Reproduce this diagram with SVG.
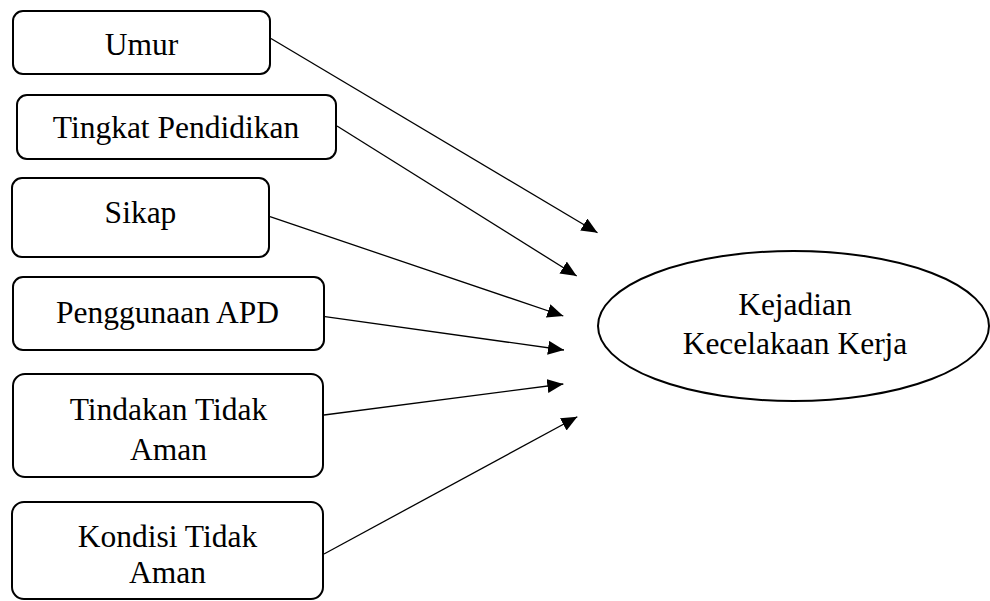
<svg xmlns="http://www.w3.org/2000/svg" width="990" height="601" viewBox="0 0 990 601">
<style>
.box{fill:#fff;stroke:#000;stroke-width:2}
.t{font-family:'Liberation Serif','Times New Roman',Times,'DejaVu Serif',serif;font-size:31.5px;fill:#000;text-anchor:middle}
.c{stroke:#000;stroke-width:1.3;fill:none;marker-end:url(#ah)}
</style>
<defs>
<marker id="ah" markerUnits="userSpaceOnUse" markerWidth="17" markerHeight="15" refX="16" refY="7" orient="auto">
<path d="M0,0 L16,7 L0,14 z" fill="#000"/>
</marker>
</defs>
<rect width="990" height="601" fill="#fff"/>
<g id="connectors">
<line class="c" x1="271" y1="38.5" x2="597.5" y2="232.7"/>
<line class="c" x1="337" y1="126" x2="576.7" y2="276"/>
<line class="c" x1="270" y1="216.7" x2="563.3" y2="316"/>
<line class="c" x1="325" y1="316.7" x2="564" y2="350"/>
<line class="c" x1="324" y1="415" x2="563.3" y2="384"/>
<line class="c" x1="324" y1="554" x2="577.3" y2="416.7"/>
</g>
<g id="umur">
<rect class="box" x="13" y="11" width="257" height="63" rx="10"/>
<text class="t" x="141.5" y="55" font-family="Liberation Serif, serif">Umur</text>
</g>
<g id="pendidikan">
<rect class="box" x="17" y="95" width="319" height="64" rx="10"/>
<text class="t" x="176" y="138">Tingkat Pendidikan</text>
</g>
<g id="sikap">
<rect class="box" x="12" y="178" width="257" height="79" rx="10"/>
<text class="t" x="140.5" y="222.5">Sikap</text>
</g>
<g id="apd">
<rect class="box" x="13" y="277" width="311" height="73" rx="10"/>
<text class="t" x="167.5" y="322.5">Penggunaan APD</text>
</g>
<g id="tindakan">
<rect class="box" x="13" y="374" width="310" height="103" rx="12"/>
<text class="t" x="168.5" y="419.5">Tindakan Tidak</text>
<text class="t" x="168.5" y="459.5">Aman</text>
</g>
<g id="kondisi">
<rect class="box" x="12" y="502" width="311" height="97" rx="12"/>
<text class="t" x="167.5" y="546.5">Kondisi Tidak</text>
<text class="t" x="167.5" y="583">Aman</text>
</g>
<g id="kejadian">
<ellipse class="box" cx="793.5" cy="326" rx="195.5" ry="75"/>
<text class="t" x="795" y="315">Kejadian</text>
<text class="t" x="795" y="354">Kecelakaan Kerja</text>
</g>
</svg>
